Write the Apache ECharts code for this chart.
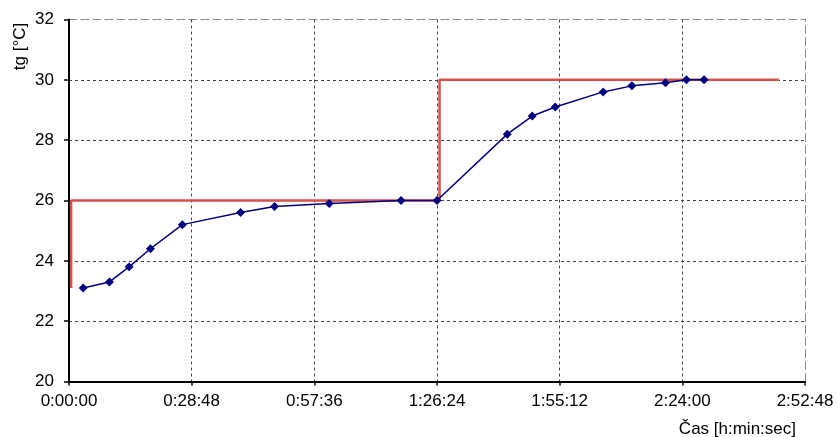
<!DOCTYPE html>
<html>
<head>
<meta charset="utf-8">
<title>tg</title>
<script src="https://cdn.jsdelivr.net/npm/echarts@6/dist/echarts.min.js"></script>
<style>
  html, body { margin: 0; padding: 0; background: #fff; }
  #chart { width: 837px; height: 437px; }
</style>
</head>
<body>
<div id="chart"></div>
<script>
// Measured temperature samples: time in seconds, value in °C
const sampleTimes = [200, 570, 847, 1147, 1597, 2417, 2896, 3665, 4678, 5184, 6174, 6526, 6850, 7525, 7929, 8403, 8698, 8946];
const measured = [23.1, 23.3, 23.8, 24.4, 25.2, 25.6, 25.8, 25.9, 26.0, 26.0, 28.2, 28.8, 29.1, 29.6, 29.8, 29.9, 30.0, 30.0];

// Set-point step profile
const setpointTimes = [30, 30, 5220, 5220, 10000];
const setpointValues = [23.1, 26, 26, 30, 30];

// Axis ranges
const timeMax = 10368;      // 2:52:48
const timeStep = 1728;      // 0:28:48
const tempMin = 20, tempMax = 32, tempStep = 2;

const FONT = 'Liberation Sans, Arial, sans-serif';

function hms(sec) {
  const h = Math.floor(sec / 3600);
  const m = Math.floor((sec % 3600) / 60);
  const s = Math.round(sec % 60);
  return h + ':' + String(m).padStart(2, '0') + ':' + String(s).padStart(2, '0');
}

const chart = echarts.init(document.getElementById('chart'), null, { renderer: 'canvas' });

const gridLine = { show: true, lineStyle: { color: '#444', type: [3, 3], width: 1 } };
const frameStyle = { color: '#8a8a8a', type: [8, 4], width: 1 };

chart.setOption({
  animation: false,
  backgroundColor: '#fff',
  grid: { left: 69, right: 32, top: 19.5, bottom: 55.5, containLabel: false },
  xAxis: [
    {
      type: 'value', position: 'bottom', min: 0, max: timeMax, interval: timeStep,
      axisLine: { show: true, onZero: false, lineStyle: { color: '#000', width: 2, type: 'solid' } },
      axisTick: { show: true, length: 4, lineStyle: { color: '#000', width: 1.5 } },
      axisLabel: { margin: 11, fontFamily: FONT, fontSize: 17, color: '#000', formatter: hms },
      splitLine: Object.assign({ showMinLine: false, showMaxLine: false }, gridLine),
      z: 5
    },
    {
      type: 'value', position: 'top', min: 0, max: timeMax, interval: timeStep,
      axisLine: { show: true, onZero: false, lineStyle: frameStyle },
      axisTick: { show: false }, axisLabel: { show: false }, splitLine: { show: false }
    }
  ],
  yAxis: [
    {
      type: 'value', position: 'left', min: tempMin, max: tempMax, interval: tempStep,
      axisLine: { show: true, onZero: false, lineStyle: { color: '#000', width: 2, type: 'solid' } },
      axisTick: { show: true, length: 5, lineStyle: { color: '#000', width: 1.5 } },
      axisLabel: { margin: 15, fontFamily: FONT, fontSize: 17, color: '#000' },
      splitLine: Object.assign({ showMinLine: false, showMaxLine: false }, gridLine),
      z: 5
    },
    {
      type: 'value', position: 'right', min: tempMin, max: tempMax, interval: tempStep,
      axisLine: { show: true, onZero: false, lineStyle: frameStyle },
      axisTick: { show: false }, axisLabel: { show: false }, splitLine: { show: false }
    }
  ],
  graphic: [
    {
      type: 'text', x: 20.5, y: 46.5, rotation: Math.PI / 2,
      style: { text: 'tg [°C]', font: '17px ' + FONT, fill: '#000', align: 'center', verticalAlign: 'middle' }
    },
    {
      type: 'text', x: 796, y: 429,
      style: { text: 'Čas [h:min:sec]', font: '17px ' + FONT, fill: '#000', align: 'right', verticalAlign: 'middle' }
    }
  ],
  series: [
    {
      name: 'setpoint', type: 'line', xAxisIndex: 0, yAxisIndex: 0,
      data: setpointTimes.map((t, i) => [t, setpointValues[i]]),
      showSymbol: false, symbol: 'none',
      lineStyle: { color: '#D6504C', width: 2.5 },
      z: 6
    },
    {
      name: 'tg', type: 'line', xAxisIndex: 0, yAxisIndex: 0,
      data: sampleTimes.map((t, i) => [t, measured[i]]),
      symbol: 'diamond', symbolSize: 9,
      itemStyle: { color: '#000080' },
      lineStyle: { color: '#000080', width: 1.5 },
      z: 7
    }
  ]
});
</script>
</body>
</html>
